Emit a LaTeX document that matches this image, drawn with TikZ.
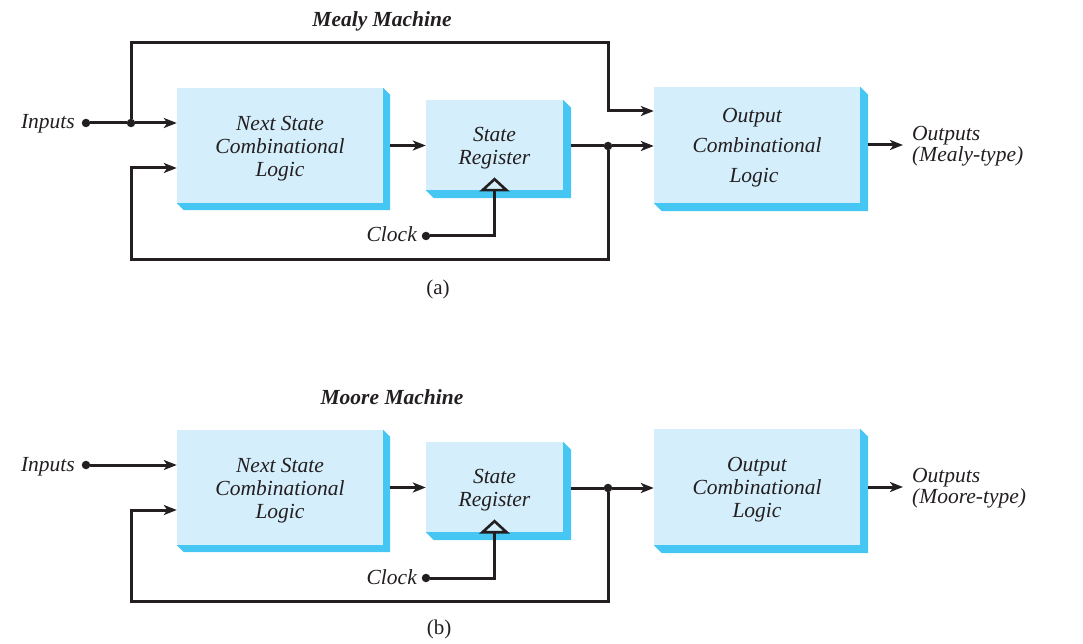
\documentclass[tikz,border=0pt]{standalone}
\usepackage{fontspec}
\setmainfont{Liberation Serif}
\usetikzlibrary{arrows.meta,calc}
\definecolor{boxface}{HTML}{D4EEFB}
\definecolor{boxside}{HTML}{46C6F2}
\definecolor{ink}{HTML}{231F20}

\tikzset{
  blk/.style={rectangle, fill=boxface, inner sep=0pt, align=center,
    font=\fontsize{21.5}{23}\selectfont\itshape, text=ink},
  lbl/.style={inner sep=0pt, font=\fontsize{21.5}{21}\selectfont\itshape, text=ink},
  ttl/.style={inner sep=0pt, font=\fontsize{21.5}{23}\selectfont\bfseries\itshape, text=ink},
  sublbl/.style={inner sep=0pt, font=\fontsize{21}{23}\selectfont, text=ink},
  wire/.style={draw=ink, line width=3pt},
  arr/.style={wire, -{Stealth[length=13pt,width=10pt,inset=3.5pt]}},
  jdot/.style={circle, fill=ink, inner sep=0pt, minimum size=8.5pt},
  clktri/.style={draw=ink, line width=2.6pt, line join=miter},
}
% extruded side of a block: an L-shaped band below and right of the face
\newcommand\sidefill[2]{%
  \fill[boxside] (#1.south west) -- ++(#2,#2) -- ($(#1.south east)+(#2,#2)$)
    -- ($(#1.north east)+(#2,#2)$) -- (#1.north east) -- (#1.south east) -- cycle;}
% taller first line: lowers a block's text a little
\newcommand\lowstrut{\rule{0pt}{20pt}}

\begin{document}
\begin{tikzpicture}[x=1pt,y=-1pt]
\useasboundingbox (0,0) rectangle (1083,644);

% ---------------- (a) Mealy machine ----------------
\node[ttl, anchor=base] (tA) at (382,27) {Mealy Machine};

\node[blk, minimum width=206pt, minimum height=115pt] (nsA) at (280,145.5)
  {\lowstrut Next State\\Combinational\\Logic};
\node[blk, minimum width=137pt, minimum height=90pt] (srA) at (494.5,145)
  {\lowstrut State\\Register};
\node[blk, minimum width=206pt, minimum height=116pt] (ocA) at (757,145)
  {\lowstrut Output\hspace*{10pt}\\[7pt]Combinational\hspace*{26pt}\\[7pt]Logic\hspace*{6pt}};
\sidefill{nsA}{7}
\sidefill{srA}{8}
\sidefill{ocA}{8}

\node[lbl, anchor=base east] (inA) at (75,129) {Inputs};
\node[jdot] (idA) at (86,123) {};
\node[jdot] (jiA) at (131,123) {};
\node[jdot] (jsA) at (608,146) {};
\coordinate (topA) at (608,43);

\draw[wire] (idA) -- (jiA);
\draw[arr] (jiA) -- (jiA -| nsA.west);
\draw[arr] (jiA) |- (topA) -- (608,111) -- (ocA.west |- 0,111);
\draw[arr] ($(nsA.east)+(7,0)$) -- (srA.west |- nsA.east);
\draw[wire] ($(srA.east)+(8,1)$) -- (jsA);
\draw[arr] (jsA) -- (ocA.west |- jsA);
\draw[arr] (jsA) -- (608,259) -| (131,168) -- (nsA.west |- 0,168);

\node[lbl, anchor=west, align=left, font=\fontsize{21.5}{21.5}\selectfont\itshape]
  (outA) at (912,146) {Outputs\\(Mealy-type)};
\draw[arr] ($(ocA.east)+(8,0)$) -- ($(outA.west |- ocA.east)+(-9,0)$);

\node[lbl, anchor=base east] (ckA) at (417,242) {Clock};
\node[jdot] (cdA) at (426,236) {};
\coordinate (tbA) at (srA.south);
\draw[wire] (cdA) -| (tbA);
\draw[clktri] ($(tbA)+(-12,0)$) -- ($(tbA)+(0,-11)$) -- ($(tbA)+(12,0)$) -- cycle;

\node[sublbl, anchor=base] (capA) at (438,294) {(a)};

% ---------------- (b) Moore machine ----------------
\node[ttl, anchor=base] (tB) at (392,404) {Moore Machine};

\begin{scope}[shift={(0,342)}]
\node[blk, minimum width=206pt, minimum height=115pt] (nsB) at (280,145.5)
  {\lowstrut Next State\\Combinational\\Logic};
\node[blk, minimum width=137pt, minimum height=90pt] (srB) at (494.5,145)
  {\lowstrut State\\Register};
\node[blk, minimum width=206pt, minimum height=116pt] (ocB) at (757,145)
  {\lowstrut Output\\Combinational\\Logic};
\sidefill{nsB}{7}
\sidefill{srB}{8}
\sidefill{ocB}{8}

\node[lbl, anchor=base east] (inB) at (75,129) {Inputs};
\node[jdot] (idB) at (86,123) {};
\node[jdot] (jsB) at (608,146) {};

\draw[arr] (idB) -- (idB -| nsB.west);
\draw[arr] ($(nsB.east)+(7,0)$) -- (srB.west |- nsB.east);
\draw[wire] ($(srB.east)+(8,1)$) -- (jsB);
\draw[arr] (jsB) -- (ocB.west |- jsB);
\draw[arr] (jsB) -- (608,259) -| (131,168) -- (nsB.west |- 0,168);

\node[lbl, anchor=west, align=left, font=\fontsize{21.5}{21.5}\selectfont\itshape]
  (outB) at (912,146) {Outputs\\(Moore-type)};
\draw[arr] ($(ocB.east)+(8,0)$) -- ($(outB.west |- ocB.east)+(-9,0)$);

\node[lbl, anchor=base east] (ckB) at (417,242) {Clock};
\node[jdot] (cdB) at (426,236) {};
\coordinate (tbB) at (srB.south);
\draw[wire] (cdB) -| (tbB);
\draw[clktri] ($(tbB)+(-12,0)$) -- ($(tbB)+(0,-11)$) -- ($(tbB)+(12,0)$) -- cycle;
\end{scope}

\node[sublbl, anchor=base] (capB) at (439,634) {(b)};
\end{tikzpicture}
\end{document}
